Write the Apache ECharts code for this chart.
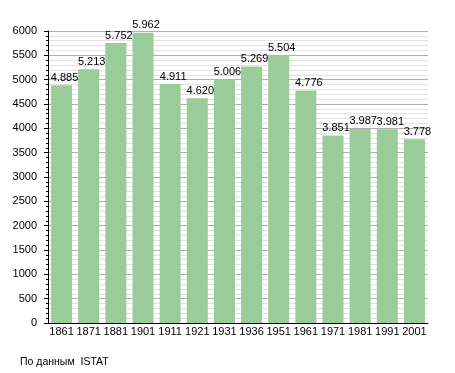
<!DOCTYPE html>
<html><head><meta charset="utf-8">
<script src="https://cdn.jsdelivr.net/npm/echarts@6/dist/echarts.min.js"></script>
<style>html,body{margin:0;padding:0;background:#fff}#c{width:455px;height:373px}</style>
</head><body><div id="c"></div>
<script>
var years = ['1861','1871','1881','1901','1911','1921','1931','1936','1951','1961','1971','1981','1991','2001'];
var population = [4885, 5213, 5752, 5962, 4911, 4620, 5006, 5269, 5504, 4776, 3851, 3987, 3981, 3778];
var yTicks = [0, 500, 1000, 1500, 2000, 2500, 3000, 3500, 4000, 4500, 5000, 5500, 6000];
var sourceText = 'По данным  ISTAT';

function fmt(v){ var s = String(v); return s.length > 3 ? s.slice(0, s.length-3) + '.' + s.slice(s.length-3) : s; }

var chart = echarts.init(document.getElementById('c'), null, {renderer:'canvas'});
chart.setOption({
  animation: false,
  backgroundColor: '#fff',
  textStyle: {fontFamily: 'Liberation Sans, Arial, sans-serif'},
  grid: {left: 48, right: 27, top: 31, bottom: 50, containLabel: false},
  graphic: [{type:'text', left: 20, top: 357, style:{text: sourceText, fontSize: 10.5, fill:'#000', fontFamily:'Liberation Sans, Arial, sans-serif'}}],
  xAxis: {
    type: 'category', data: years,
    axisLine: {show: true, lineStyle: {color: '#000', width: 1}},
    axisTick: {show: false},
    axisLabel: {color: '#000', fontSize: 11, margin: 3, interval: 0}
  },
  yAxis: {
    type: 'value', min: yTicks[0], max: yTicks[yTicks.length-1], interval: 500,
    axisLine: {show: true, lineStyle: {color: '#000', width: 1}},
    axisTick: {show: true, inside: false, length: 4, lineStyle: {color: '#000'}},
    minorTick: {show: true, splitNumber: 5, length: 2, lineStyle: {color: '#000'}},
    axisLabel: {color: '#000', fontSize: 11, margin: 11, formatter: function(v){ return String(v); }},
    splitLine: {show: true, lineStyle: {color: '#b0b0b0', width: 1}},
    minorSplitLine: {show: true, lineStyle: {color: '#e2e2e2', width: 1}}
  },
  series: [{
    type: 'bar', data: population, barWidth: 21,
    itemStyle: {color: '#99cc99'},
    label: {show: true, position: 'top', distance: 2, offset: [3, 0], color: '#000', fontSize: 11,
      formatter: function(p){ return fmt(p.value); }}
  }]
});
</script></body></html>
